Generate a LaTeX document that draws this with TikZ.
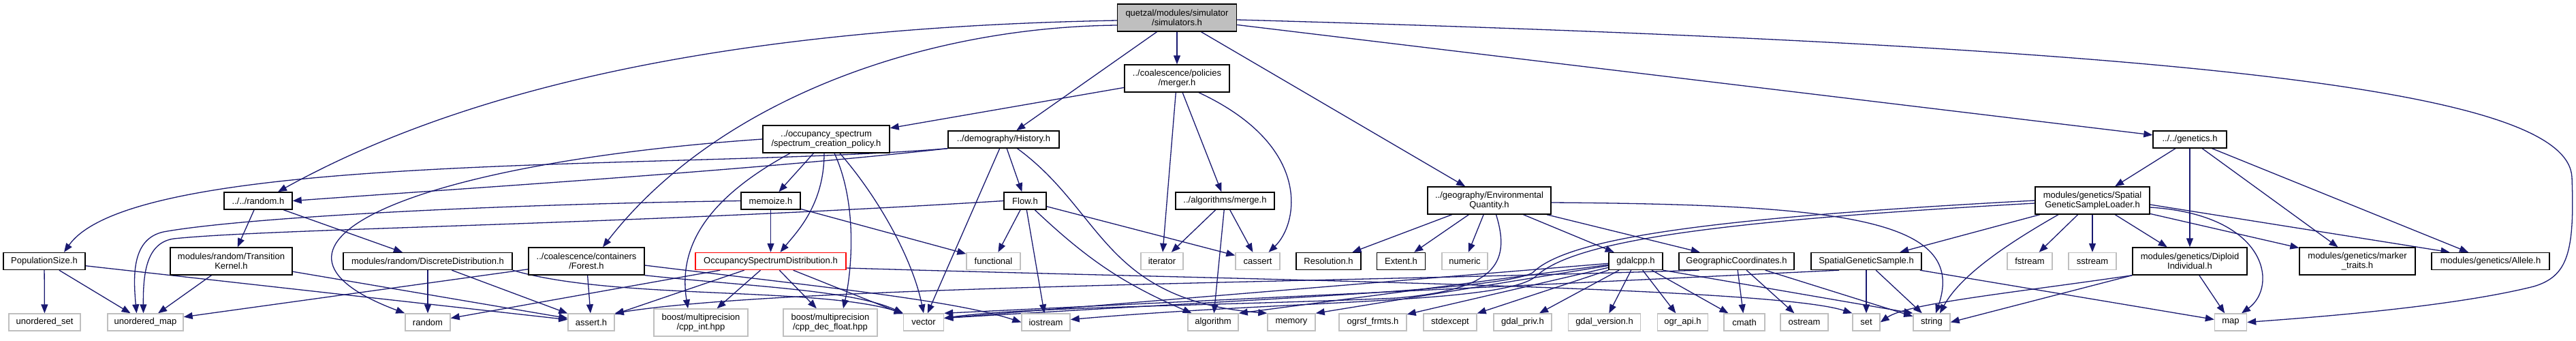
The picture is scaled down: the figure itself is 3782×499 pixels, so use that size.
\documentclass[tikz,border=0pt]{standalone}
\usepackage{fontspec}
\setmainfont{Liberation Sans}
\usetikzlibrary{arrows.meta,backgrounds}
\definecolor{depBlue}{RGB}{25,25,112}
\definecolor{sysGray}{RGB}{191,191,191}

\begin{document}
\begin{tikzpicture}[
  x=1pt, y=-1pt,
  font=\fontsize{13}{14.5}\selectfont,
  hdr/.style={draw=black, line width=1.4pt, fill=white, inner sep=0pt, align=center, minimum height=25pt},
  sys/.style={hdr, draw=sysGray},
  two/.style={minimum height=40pt},
  dep/.style={-{Triangle[length=13pt, width=10pt]}, draw=depBlue, line width=1.3pt},
]
\useasboundingbox (0,0) rectangle (3782,499);
% top ranks
\node[hdr, two, fill=sysGray, minimum width=175pt] (root) at (1728,26) {quetzal/modules/simulator\\/simulators.h};
\node[hdr, two, minimum width=154pt] (merger) at (1728,115) {../coalescence/policies\\/merger.h};
\node[hdr, two, minimum width=186pt] (spec) at (1213,204) {../occupancy\_spectrum\\/spectrum\_creation\_policy.h};
\node[hdr, minimum width=163pt] (hist) at (1473.5,204.5) {../demography/History.h};
\node[hdr, minimum width=108pt] (genetics) at (3215,204.5) {../../genetics.h};
% middle rank
\node[hdr, minimum width=100pt] (rnd) at (379,294.5) {../../random.h};
\node[hdr, minimum width=87pt] (memo) at (1131.5,294.5) {memoize.h};
\node[hdr, minimum width=62pt] (flow) at (1505,294.5) {Flow.h};
\node[hdr, minimum width=145pt] (merge) at (1798.5,294.5) {../algorithms/merge.h};
\node[hdr, two, minimum width=181pt] (envq) at (2186.5,294) {../geography/Environmental\\Quantity.h};
\node[hdr, two, minimum width=168pt] (sgsl) at (3072,294) {modules/genetics/Spatial\\GeneticSampleLoader.h};
% project headers
\node[hdr, minimum width=120pt] (popsize) at (65,383) {PopulationSize.h};
\node[hdr, two, minimum width=179pt] (transk) at (339.5,383) {modules/random/Transition\\Kernel.h};
\node[hdr, minimum width=248pt] (discd) at (628,383) {modules/random/DiscreteDistribution.h};
\node[hdr, two, minimum width=170pt] (forest) at (861,383) {../coalescence/containers\\/Forest.h};
\node[hdr, draw=red, minimum width=221pt] (osd) at (1131.5,383) {OccupancySpectrumDistribution.h};
\node[sys, minimum width=79pt] (functional) at (1458.5,383) {functional};
\node[sys, minimum width=62pt] (iterator) at (1706,383) {iterator};
\node[sys, minimum width=65pt] (cassert) at (1846.5,383) {cassert};
\node[hdr, minimum width=95pt] (resol) at (1950.5,383) {Resolution.h};
\node[hdr, minimum width=71pt] (extent) at (2057,383) {Extent.h};
\node[sys, minimum width=67pt] (numeric) at (2150.5,383) {numeric};
\node[hdr, minimum width=79pt] (gdalcpp) at (2401.5,383) {gdalcpp.h};
\node[hdr, minimum width=169pt] (geocoord) at (2549.5,383) {GeographicCoordinates.h};
\node[hdr, minimum width=162pt] (sgsample) at (2740,383) {SpatialGeneticSample.h};
\node[sys, minimum width=66pt] (fstream) at (2980,383) {fstream};
\node[sys, minimum width=70pt] (sstream) at (3072,383) {sstream};
\node[hdr, two, minimum width=168pt] (diploid) at (3215,383) {modules/genetics/Diploid\\Individual.h};
\node[hdr, two, minimum width=170pt] (markertr) at (3461,383) {modules/genetics/marker\\\_traits.h};
\node[hdr, minimum width=173pt] (allele) at (3656.5,383) {modules/genetics/Allele.h};
% system headers
\node[sys, minimum width=105pt] (uset) at (65.5,472.5) {unordered\_set};
\node[sys, minimum width=111pt] (umap) at (213.5,472.5) {unordered\_map};
\node[sys, minimum width=66pt] (stdrandom) at (628,472.5) {random};
\node[sys, minimum width=68pt] (asserth) at (868,472.5) {assert.h};
\node[sys, two, minimum width=138pt] (cppint) at (1029,473) {boost/multiprecision\\/cpp\_int.hpp};
\node[sys, two, minimum width=138pt] (cppdec) at (1219,473) {boost/multiprecision\\/cpp\_dec\_float.hpp};
\node[sys, minimum width=59pt] (vector) at (1356,472.5) {vector};
\node[sys, minimum width=71pt] (iostream) at (1535.5,472.5) {iostream};
\node[sys, minimum width=74pt] (algorithm) at (1781,472.5) {algorithm};
\node[sys, minimum width=70pt] (memory) at (1896,472.5) {memory};
\node[sys, minimum width=99pt] (ogrsf) at (2015.5,472.5) {ogrsf\_frmts.h};
\node[sys, minimum width=78pt] (stdexcept) at (2129,472.5) {stdexcept};
\node[sys, minimum width=85pt] (gdalpriv) at (2235.5,472.5) {gdal\_priv.h};
\node[sys, minimum width=106pt] (gdalver) at (2355.5,472.5) {gdal\_version.h};
\node[sys, minimum width=74pt] (ograpi) at (2470.5,472.5) {ogr\_api.h};
\node[sys, minimum width=60pt] (cmath) at (2561,472.5) {cmath};
\node[sys, minimum width=70pt] (ostream) at (2649,472.5) {ostream};
\node[sys, minimum width=40pt] (set) at (2740,472.5) {set};
\node[sys, minimum width=54pt] (string) at (2836,472.5) {string};
\node[sys, minimum width=47pt] (map) at (3275,472.5) {map};

\begin{scope}[on background layer]
\fill[white] (0,0) rectangle (3782,499);
% from the root
\draw[dep] ([yshift=-4pt]root.west) .. controls (1100,40) and (700,120) .. ([xshift=29pt]rnd.north);
\draw[dep] ([yshift=-11pt]root.west) .. controls (1350,40) and (1050,150) .. ([xshift=24pt]forest.north);
\draw[dep] (root) -- (hist);
\draw[dep] (root) -- (merger);
\draw[dep] (root) -- (envq);
\draw[dep] (root) -- (genetics);
\draw[dep] ([yshift=-3pt]root.east) .. controls (3300,70) and (3770,140) .. (3776,260)
  .. controls (3780,370) and (3770,405) .. (3720,420)
  .. controls (3600,450) and (3400,465) .. (map.east);
% merger.h and spectrum_creation_policy.h
\draw[dep] (merger) -- (spec);
\draw[dep] (merger) -- (iterator);
\draw[dep] (merger) -- (merge);
\draw[dep] ([xshift=32pt]merger.south) .. controls (1930,215) and (1905,330) .. ([xshift=16pt]cassert.north);
\draw[dep] (spec.west) .. controls (600,240) and (330,360) .. (stdrandom.north west);
\draw[dep] (spec) -- (memo);
\draw[dep] ([xshift=-3pt]spec.south) .. controls (1210,300) and (1170,340) .. ([xshift=14pt]osd.north);
\draw[dep] ([xshift=-53pt]spec.south) .. controls (1040,290) and (995,360) .. ([xshift=-19pt]cppint.north);
\draw[dep] ([xshift=12pt]spec.south) .. controls (1260,300) and (1250,400) .. ([xshift=19pt]cppdec.north);
\draw[dep] ([xshift=20pt]spec.south) .. controls (1290,290) and (1340,380) .. (vector.north);
% History.h
\draw[dep] (hist.south west) .. controls (1000,250) and (200,220) .. ([xshift=29pt]popsize.north);
\draw[dep] (hist.south west) .. controls (1100,250) and (700,275) .. (rnd.east);
\draw[dep] (hist) -- (flow);
\draw[dep] (hist) -- (vector);
\draw[dep] ([xshift=20pt]hist.south) .. controls (1620,310) and (1620,440) .. (memory.north west);
% memoize.h, Flow.h, merge.h
\draw[dep] (memo.west) .. controls (700,300) and (350,320) .. (240,340)
  .. controls (195,350) and (195,400) .. ([xshift=-13pt]umap.north);
\draw[dep] (memo) -- (osd);
\draw[dep] (memo) -- (functional);
\draw[dep] (flow.west) .. controls (900,330) and (400,335) .. (255,350)
  .. controls (215,356) and (210,400) .. ([xshift=-3pt]umap.north);
\draw[dep] (flow) -- (functional);
\draw[dep] (flow) -- (iostream);
\draw[dep] (flow) to[bend right=10] (algorithm);
\draw[dep] (flow) -- (cassert);
\draw[dep] (merge) -- (iterator);
\draw[dep] (merge) -- (algorithm);
\draw[dep] (merge) -- (cassert);
% random.h
\draw[dep] (rnd) -- (transk);
\draw[dep] (rnd) -- (discd);
% EnvironmentalQuantity.h
\draw[dep] (envq) -- (resol);
\draw[dep] (envq) -- (extent);
\draw[dep] (envq) -- (numeric);
\draw[dep] (envq) -- (gdalcpp);
\draw[dep] (envq) -- (geocoord);
\draw[dep] ([yshift=-3pt]envq.east) .. controls (2700,300) and (2890,320) .. ([xshift=6pt]string.north);
\draw[dep] ([xshift=10pt]envq.south) .. controls (2220,390) and (2190,425) .. (2050,437)
  .. controls (1800,448) and (1500,450) .. ([yshift=6pt]vector.east);
% SpatialGeneticSampleLoader.h
\draw[dep] (sgsl) -- (sgsample);
\draw[dep] ([xshift=-50pt]sgsl.south) .. controls (2960,350) and (2880,400) .. ([xshift=12pt]string.north);
\draw[dep] (sgsl) -- (fstream);
\draw[dep] (sgsl) -- (sstream);
\draw[dep] (sgsl) -- (diploid);
\draw[dep] (sgsl) -- (markertr);
\draw[dep] ([yshift=-6pt]sgsl.east) -- ([xshift=-60pt]allele.north);
\draw[dep] ([yshift=-10pt]sgsl.east) .. controls (3330,315) and (3345,420) .. ([xshift=16pt]map.north);
\draw[dep] (sgsl.west) .. controls (2500,320) and (2300,350) .. (2250,400)
  .. controls (2200,425) and (1900,435) .. ([yshift=6pt]vector.east);
\draw[dep] ([yshift=-4pt]sgsl.west) .. controls (2500,325) and (2310,355) .. (2255,405)
  .. controls (2210,445) and (1900,440) .. ([yshift=4pt]iostream.east);
% genetics.h
\draw[dep] (genetics) -- (sgsl);
\draw[dep] (genetics) -- (diploid);
\draw[dep] (genetics) -- (markertr);
\draw[dep] (genetics) -- (allele);
% left headers
\draw[dep] (popsize) -- (uset);
\draw[dep] (popsize) -- (umap);
\draw[dep] (popsize) -- (asserth);
\draw[dep] (transk) -- (umap);
\draw[dep] (transk) -- (asserth);
\draw[dep] (discd) -- (stdrandom);
\draw[dep] (discd) -- (asserth);
\draw[dep] (discd.south east) .. controls (900,440) and (1200,420) .. (vector.north west);
\draw[dep] (forest) -- (asserth);
\draw[dep] (forest) -- (umap);
\draw[dep] (forest.south east) .. controls (1100,420) and (1250,425) .. (vector.north west);
\draw[dep] ([yshift=-6pt]forest.east) .. controls (1200,420) and (1400,440) .. (iostream.west);
% OccupancySpectrumDistribution.h
\draw[dep] (osd) -- (stdrandom);
\draw[dep] (osd) -- (asserth);
\draw[dep] (osd) -- (cppint);
\draw[dep] (osd) -- (cppdec);
\draw[dep] (osd) -- (vector);
\draw[dep] ([yshift=-10pt]osd.east) .. controls (1800,410) and (2600,420) .. (set.north west);
% gdalcpp.h
\draw[dep] (gdalcpp) -- ([yshift=6pt]vector.east);
\draw[dep] (gdalcpp) -- (algorithm.north east);
\draw[dep] (gdalcpp) -- (memory.north east);
\draw[dep] (gdalcpp) -- (ogrsf);
\draw[dep] (gdalcpp) -- (stdexcept);
\draw[dep] (gdalcpp) -- (gdalpriv);
\draw[dep] (gdalcpp) -- (gdalver);
\draw[dep] (gdalcpp) -- (ograpi);
\draw[dep] (gdalcpp) -- (cmath);
\draw[dep] (gdalcpp.south east) -- (string.north west);
% GeographicCoordinates.h, SpatialGeneticSample.h, DiploidIndividual.h
\draw[dep] (geocoord) -- (cmath);
\draw[dep] (geocoord) -- (ostream);
\draw[dep] (geocoord) -- (string);
\draw[dep] ([xshift=-55pt]geocoord.south) .. controls (1900,415) and (1150,420) .. (asserth.north east);
\draw[dep] (sgsample) -- (set);
\draw[dep] (sgsample) -- (string);
\draw[dep] (sgsample) -- (map);
\draw[dep] ([xshift=-40pt]sgsample.south) -- (vector.north east);
\draw[dep] (diploid) -- (map);
\draw[dep] (diploid.south west) .. controls (2950,430) and (2800,445) .. (set.east);
\draw[dep] (diploid.south west) -- (string.east);
\end{scope}
\end{tikzpicture}
\end{document}
